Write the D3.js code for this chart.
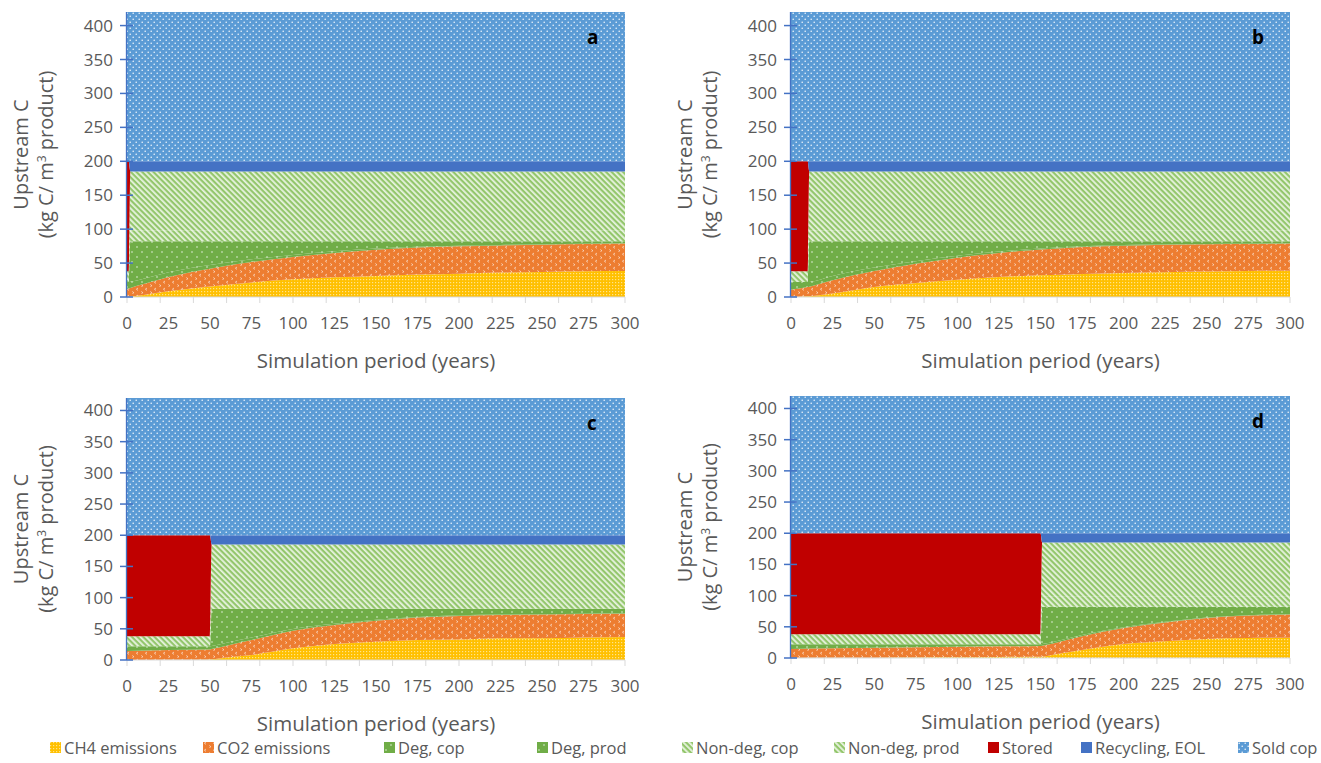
<!DOCTYPE html>
<html>
<head>
<meta charset="utf-8">
<script src="https://cdn.jsdelivr.net/npm/d3@7"></script>
<style>
	body { margin: 0; background: #fff; }
	svg { display: block; }
	text { font-family: "Open Sans", sans-serif; fill: #595959; }
</style>
</head>
<body>
<svg id="chart" width="1321" height="763"></svg>
<script>

var
	seriesNames = ['CH4 emissions', 'CO2 emissions', 'Deg, cop', 'Deg, prod', 'Non-deg, cop', 'Non-deg, prod', 'Stored', 'Recycling, EOL', 'Sold cop'],
	keys = ['ch4', 'co2', 'degCop', 'degProd', 'ndCop', 'ndProd', 'stored', 'recyc', 'sold'],

	// year, ch4, co2, degCop, degProd, ndCop, ndProd, stored, recyc, sold
	panelA = [
		[0, 0, 12, 10, 0, 16, 0, 162, 0, 220],
		[1, 0.2, 12.3, 9.5, 0, 16, 0, 162, 0, 220],
		[2, 0.5, 12.9, 9, 59.6, 16, 87, 0, 15, 220],
		[10, 3, 16, 8, 55, 16, 87, 0, 15, 220],
		[25, 8.5, 21, 7, 45.5, 16, 87, 0, 15, 220],
		[50, 15.5, 26.3, 5.5, 34.7, 16, 87, 0, 15, 220],
		[75, 21.5, 30.1, 4, 26.4, 16, 87, 0, 15, 220],
		[100, 26, 33, 3, 20, 16, 87, 0, 15, 220],
		[125, 29, 36, 2.3, 14.7, 16, 87, 0, 15, 220],
		[150, 31, 38.8, 1.7, 10.5, 16, 87, 0, 15, 220],
		[175, 33, 39.8, 1.2, 8, 16, 87, 0, 15, 220],
		[200, 34.4, 40.3, 1, 6.3, 16, 87, 0, 15, 220],
		[225, 36, 40, 0.8, 5.2, 16, 87, 0, 15, 220],
		[250, 37, 40, 0.7, 4.3, 16, 87, 0, 15, 220],
		[275, 38, 40, 0.5, 3.5, 16, 87, 0, 15, 220],
		[300, 38.3, 40.4, 0.4, 2.9, 16, 87, 0, 15, 220]
	],
	panelB = [
		[0, 0, 10.8, 11.2, 0, 16, 0, 162, 0, 220],
		[5, 0.5, 12, 9.5, 0, 16, 0, 162, 0, 220],
		[10, 1, 13.7, 7.3, 0, 16, 0, 162, 0, 220],
		[11, 1.1, 14.1, 7, 59.8, 16, 87, 0, 15, 220],
		[25, 5, 19.6, 6.5, 50.9, 16, 87, 0, 15, 220],
		[50, 14.7, 23.6, 5, 38.7, 16, 87, 0, 15, 220],
		[75, 20.6, 28.4, 3.8, 29.2, 16, 87, 0, 15, 220],
		[100, 25.6, 32.4, 2.8, 21.2, 16, 87, 0, 15, 220],
		[125, 29.5, 35.5, 2, 15, 16, 87, 0, 15, 220],
		[150, 32, 38, 1.4, 10.6, 16, 87, 0, 15, 220],
		[175, 34, 39.7, 1, 7.3, 16, 87, 0, 15, 220],
		[200, 35.4, 40.3, 0.8, 5.5, 16, 87, 0, 15, 220],
		[225, 36.4, 40.6, 0.6, 4.4, 16, 87, 0, 15, 220],
		[250, 37.4, 40.3, 0.5, 3.8, 16, 87, 0, 15, 220],
		[275, 38.3, 39.7, 0.5, 3.5, 16, 87, 0, 15, 220],
		[300, 38.8, 39.9, 0.4, 2.9, 16, 87, 0, 15, 220]
	],
	panelC = [
		[0, 0, 14.5, 7.5, 0, 16, 0, 162, 0, 220],
		[25, 0.5, 15.5, 6, 0, 16, 0, 162, 0, 220],
		[50, 1, 16, 5, 0, 16, 0, 162, 0, 220],
		[51, 1.1, 16.4, 5, 59.5, 16, 87, 0, 15, 220],
		[60, 4, 19, 4.6, 54.4, 16, 87, 0, 15, 220],
		[75, 8, 24, 4, 46, 16, 87, 0, 15, 220],
		[100, 18.7, 28.3, 2.8, 32.2, 16, 87, 0, 15, 220],
		[125, 25.7, 30.3, 2, 24, 16, 87, 0, 15, 220],
		[150, 29.4, 33.6, 1.5, 17.5, 16, 87, 0, 15, 220],
		[175, 32, 36, 1.1, 12.9, 16, 87, 0, 15, 220],
		[200, 33, 37.7, 0.9, 10.4, 16, 87, 0, 15, 220],
		[225, 35, 37, 0.8, 9.2, 16, 87, 0, 15, 220],
		[250, 35, 38, 0.7, 8.3, 16, 87, 0, 15, 220],
		[275, 36, 37.6, 0.7, 7.7, 16, 87, 0, 15, 220],
		[300, 37, 37, 0.6, 7.4, 16, 87, 0, 15, 220]
	],
	panelD = [
		[0, 0, 14.5, 7.5, 0, 16, 0, 162, 0, 220],
		[25, 0.3, 15.2, 6.5, 0, 16, 0, 162, 0, 220],
		[50, 0.6, 15.9, 5.5, 0, 16, 0, 162, 0, 220],
		[75, 1, 16.3, 4.7, 0, 16, 0, 162, 0, 220],
		[100, 1.3, 16.7, 4, 0, 16, 0, 162, 0, 220],
		[125, 1.7, 17, 3.3, 0, 16, 0, 162, 0, 220],
		[150, 2, 17.3, 2.7, 0, 16, 0, 162, 0, 220],
		[151, 2.1, 17.7, 2.6, 59.6, 16, 87, 0, 15, 220],
		[160, 6.4, 18.6, 2.4, 54.6, 16, 87, 0, 15, 220],
		[175, 13, 21.8, 2, 45.2, 16, 87, 0, 15, 220],
		[200, 22.5, 25.5, 1.4, 32.6, 16, 87, 0, 15, 220],
		[225, 27, 30, 1, 24, 16, 87, 0, 15, 220],
		[250, 30.5, 33.5, 0.8, 17.2, 16, 87, 0, 15, 220],
		[275, 32, 36, 0.6, 13.4, 16, 87, 0, 15, 220],
		[300, 32.5, 37.1, 0.5, 11.9, 16, 87, 0, 15, 220]
	],

	yTicks = [0, 50, 100, 150, 200, 250, 300, 350, 400],
	xLabels = [0, 25, 50, 75, 100, 125, 150, 175, 200, 225, 250, 275, 300],
	xTickMarks = [0, 20, 40, 60, 80, 100, 120, 140, 160, 180, 200, 220, 240, 260, 280, 300],
	yMax = 420,
	xMax = 300;

var
	svg = d3.select('#chart'),
	defs = svg.append('defs'),
	fills = {
		ch4: 'url(#p-ch4)', co2: 'url(#p-co2)',
		degCop: 'url(#p-deg)', degProd: 'url(#p-deg)',
		ndCop: 'url(#p-nd)', ndProd: 'url(#p-nd)',
		stored: '#C00000', recyc: '#4472C4', sold: 'url(#p-sold)'
	},
	panels = [
		{ letter: 'a', data: panelA, left: 127, right: 625, top: 12, bottom: 297 },
		{ letter: 'b', data: panelB, left: 791, right: 1290, top: 12, bottom: 297 },
		{ letter: 'c', data: panelC, left: 127, right: 625, top: 398, bottom: 660 },
		{ letter: 'd', data: panelD, left: 791, right: 1290, top: 396, bottom: 658 }
	];

// patterns, roughly Excel's pattern fills
function pattern(id, w, h, bg) {
	var p = defs.append('pattern').attr('id', id)
		.attr('patternUnits', 'userSpaceOnUse').attr('width', w).attr('height', h)
	p.append('rect').attr('width', w).attr('height', h).attr('fill', bg)
	return p
}

var pSold = pattern('p-sold', 6, 6, '#5B9BD5')
pSold.append('circle').attr('cx', 1.2).attr('cy', 1.2).attr('r', 0.8).attr('fill', '#fff').attr('opacity', 0.9)
pSold.append('circle').attr('cx', 4.2).attr('cy', 4.2).attr('r', 0.8).attr('fill', '#fff').attr('opacity', 0.9)

var pDeg = pattern('p-deg', 10, 10, '#70AD47')
pDeg.append('circle').attr('cx', 2).attr('cy', 2).attr('r', 0.8).attr('fill', '#fff').attr('opacity', 0.8)
pDeg.append('circle').attr('cx', 7).attr('cy', 7).attr('r', 0.8).attr('fill', '#fff').attr('opacity', 0.8)

var pNd = pattern('p-nd', 4, 4, '#93C66C').attr('patternTransform', 'rotate(-45)')
pNd.append('rect').attr('width', 1.8).attr('height', 4).attr('fill', '#E8F3E0')

var pCo2 = pattern('p-co2', 9, 7, '#ED7D31')
pCo2.append('path').attr('d', 'M3,1 L1.4,2.2 L3,3.4').attr('stroke', '#fff').attr('stroke-width', 0.8).attr('fill', 'none').attr('opacity', 0.75)
pCo2.append('path').attr('d', 'M6.3,4.5 L7.9,5.7 L6.3,6.9').attr('stroke', '#fff').attr('stroke-width', 0.8).attr('fill', 'none').attr('opacity', 0.75)

var pCh4 = pattern('p-ch4', 3, 3, '#FFC000')
pCh4.append('rect').attr('width', 1.2).attr('height', 1.2).attr('fill', '#fff').attr('opacity', 0.55)

function draw(panel, i) {
	var
		g = svg.append('g'),
		x = d3.scaleLinear().domain([0, xMax]).range([panel.left, panel.right]),
		y = d3.scaleLinear().domain([0, yMax]).range([panel.bottom, panel.top]),
		rows = panel.data.map(function (r) {
			var o = { year: r[0] }
			keys.forEach(function (k, j) { o[k] = r[j + 1] })
			return o
		}),
		stacked = d3.stack().keys(keys)(rows),
		area = d3.area()
			.x(function (d) { return x(d.data.year) })
			.y0(function (d) { return y(d[0]) })
			.y1(function (d) { return y(d[1]) })
			.curve(d3.curveMonotoneX);

	defs.append('clipPath').attr('id', 'clip' + i)
		.append('rect').attr('x', panel.left).attr('y', panel.top)
		.attr('width', panel.right - panel.left).attr('height', panel.bottom - panel.top)

	g.append('g').attr('clip-path', 'url(#clip' + i + ')')
		.selectAll('path').data(stacked).enter().append('path')
		.attr('d', area)
		.attr('fill', function (d) { return fills[d.key] })

	// x axis: grey line, marks every 20, labels every 25
	g.append('line').attr('x1', x(0)).attr('x2', x(xMax)).attr('y1', y(0)).attr('y2', y(0))
		.attr('stroke', '#D9D9D9').attr('stroke-width', 1)
	g.selectAll('.xt').data(xTickMarks).enter().append('line')
		.attr('x1', function (d) { return x(d) }).attr('x2', function (d) { return x(d) })
		.attr('y1', y(0)).attr('y2', y(0) + 6)
		.attr('stroke', '#D9D9D9')
	g.selectAll('.xl').data(xLabels).enter().append('text')
		.attr('x', function (d) { return x(d) }).attr('y', y(0) + 32)
		.attr('text-anchor', 'middle').style('font-size', '17px')
		.text(function (d) { return d })

	// y axis: blue line with crossing ticks
	g.append('line').attr('x1', x(0) - 0.5).attr('x2', x(0) - 0.5).attr('y1', y(0)).attr('y2', y(yMax))
		.attr('stroke', '#4472C4').attr('stroke-width', 1.3)
	g.selectAll('.yt').data(yTicks).enter().append('line')
		.attr('x1', x(0) - 7).attr('x2', x(0) + 6)
		.attr('y1', function (d) { return y(d) }).attr('y2', function (d) { return y(d) })
		.attr('stroke', '#4472C4').attr('stroke-width', 1.5)
	g.selectAll('.yl').data(yTicks).enter().append('text')
		.attr('x', x(0) - 14).attr('y', function (d) { return y(d) + 6 })
		.attr('text-anchor', 'end').style('font-size', '17px')
		.text(function (d) { return d })

	// axis titles
	var midY = (panel.top + panel.bottom) / 2
	g.append('text').attr('transform', 'translate(' + (panel.left - 99) + ',' + midY + ') rotate(-90)')
		.attr('text-anchor', 'middle').style('font-size', '20px').text('Upstream C')
	var t2 = g.append('text').attr('transform', 'translate(' + (panel.left - 74) + ',' + midY + ') rotate(-90)')
		.attr('text-anchor', 'middle').style('font-size', '20px')
	t2.append('tspan').text('(kg C/ m')
	t2.append('tspan').attr('dy', -7).style('font-size', '12px').text('3')
	t2.append('tspan').attr('dy', 7).text(' product)')

	g.append('text').attr('x', (panel.left + panel.right) / 2).attr('y', y(0) + 71)
		.attr('text-anchor', 'middle').style('font-size', '20.5px').text('Simulation period (years)')

	g.append('text').attr('x', panel.right - 38).attr('y', panel.top + 32)
		.style('font-size', '19px').style('font-weight', 'bold').style('fill', '#000')
		.text(panel.letter)
}

panels.forEach(draw)

// legend along the bottom
var
	legendFills = keys.map(function (k) { return fills[k] }),
	legendX = [50, 203, 384, 537, 682, 834, 988, 1081, 1238],
	legend = svg.append('g').selectAll('g').data(seriesNames).enter().append('g')
		.attr('transform', function (d, i) { return 'translate(' + legendX[i] + ',748)' });

legend.append('rect').attr('x', 0).attr('y', -6).attr('width', 11).attr('height', 11)
	.attr('fill', function (d, i) { return legendFills[i] })
legend.append('text').attr('x', 14).attr('y', 6).style('font-size', '16.5px')
	.text(function (d) { return d })

</script>
</body>
</html>
